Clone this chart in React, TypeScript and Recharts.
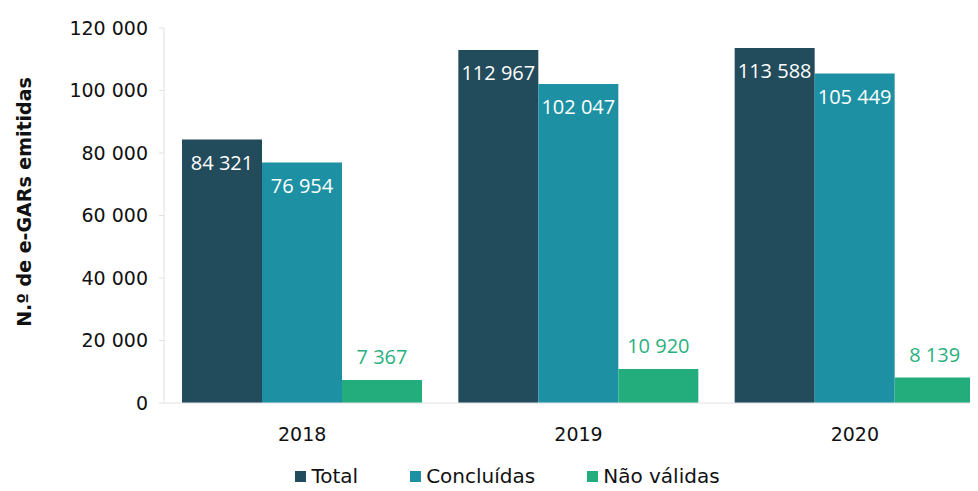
import { BarChart, Bar, XAxis, YAxis, Legend, LabelList } from 'recharts'

const years = ['2018', '2019', '2020']
const total = [84321, 112967, 113588]
const concluidas = [76954, 102047, 105449]
const naoValidas = [7367, 10920, 8139]
const yTicks = [0, 20000, 40000, 60000, 80000, 100000, 120000]

const series = [
  { key: 'total', name: 'Total', color: '#224b5b' },
  { key: 'concluidas', name: 'Concluídas', color: '#1d91a3' },
  { key: 'naoValidas', name: 'Não válidas', color: '#23ad7c' },
]

const data = years.map((year, i) => ({
  year,
  total: total[i],
  concluidas: concluidas[i],
  naoValidas: naoValidas[i],
}))

const fmt = (v: number) => String(v).replace(/\B(?=(\d{3})+(?!\d))/g, ' ')

const FONT = '"DejaVu Sans", sans-serif'

const LegendContent = () => (
  <div style={{ display: 'flex', justifyContent: 'center', height: 30, alignItems: 'center', paddingLeft: 22 }}>
    {series.map((s, i) => (
      <div key={s.key} style={{ display: 'flex', alignItems: 'center', marginLeft: i ? 52 : 0 }}>
        <div style={{ width: 11, height: 11, background: s.color, marginRight: 5 }} />
        <span style={{ fontFamily: FONT, fontSize: 20, color: '#111' }}>{s.name}</span>
      </div>
    ))}
  </div>
)

const YLabel = () => (
  <text
    x={24}
    y={202}
    transform="rotate(-90 24 202)"
    textAnchor="middle"
    dominantBaseline="central"
    style={{ fontFamily: FONT, fontSize: 19, fontWeight: 'bold', fill: '#111' }}
  >
    N.º de e-GARs emitidas
  </text>
)

export default function App() {
  return (
    <div style={{ margin: -8, width: 978, height: 491, overflow: 'hidden', background: '#fff' }}>
      <BarChart
        width={993}
        height={491}
        data={data}
        margin={{ top: 28, right: 0, bottom: 0, left: 0 }}
        barCategoryGap={18}
        barGap={0}
      >
        <XAxis
          dataKey="year"
          axisLine={{ stroke: '#e2e2e2' }}
          tickLine={false}
          tickSize={0}
          tickMargin={25}
          height={58}
          tick={{ fontFamily: FONT, fontSize: 19, fill: '#111' }}
        />
        <YAxis
          width={164}
          domain={[0, 120000]}
          ticks={yTicks}
          tickFormatter={fmt}
          axisLine={{ stroke: '#e2e2e2' }}
          tickLine={{ stroke: '#e2e2e2' }}
          tickSize={5}
          tickMargin={11}
          tick={{ fontFamily: FONT, fontSize: 19, fill: '#111' }}
          label={<YLabel />}
        />
        <Legend verticalAlign="bottom" content={<LegendContent />} />
        {series.map((s) => (
          <Bar key={s.key} dataKey={s.key} name={s.name} fill={s.color} isAnimationActive={false}>
            <LabelList
              dataKey={s.key}
              position={s.key === 'naoValidas' ? 'top' : 'insideTop'}
              offset={16}
              formatter={(v: any) => fmt(v)}
              style={{
                fontFamily: '"Open Sans", sans-serif',
                fontSize: 20,
                fill: s.key === 'naoValidas' ? '#2bb07f' : '#ffffff',
              }}
            />
          </Bar>
        ))}
      </BarChart>
    </div>
  )
}
